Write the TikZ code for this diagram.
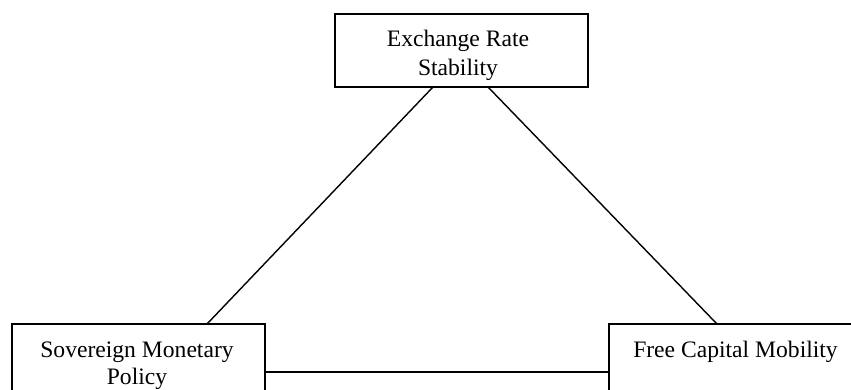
\documentclass[tikz,border=0pt]{standalone}
\usepackage{fontspec}
\setmainfont{Liberation Serif}
\usetikzlibrary{calc}
\begin{document}
\begin{tikzpicture}[x=1pt,y=-1pt,
  box/.style={draw,line width=1.4pt,minimum width=253pt,minimum height=73pt,inner sep=0pt,outer sep=0pt},
  lbl/.style={anchor=base,inner sep=0pt,font=\fontsize{23.6}{28}\selectfont},
  conn/.style={line width=1.4pt}]
\useasboundingbox (0,0) rectangle (851,389);
\clip (0,0) rectangle (851,389);
\node[box] (top) at (461.5,50.5) {};
\node[box] (sl) at (138.5,360.5) {};
\node[box] (fr) at (735.5,360.5) {};
\node[lbl] (t1) at (458,46.7) {Exchange Rate};
\node[lbl] (t2) at (458,75) {Stability};
\node[lbl] (l1) at (137,357) {Sovereign Monetary};
\node[lbl] (l2) at (137,384) {Policy};
\node[lbl] (r1) at (735.5,357) {Free Capital Mobility};
\coordinate (ta) at ($(top.south west)+(98,0)$);
\coordinate (tb) at ($(top.south west)+(153,0)$);
\coordinate (la) at ($(sl.north west)+(195,0)$);
\coordinate (ra) at ($(fr.north west)+(108,0)$);
\draw[conn] (ta) -- (la);
\draw[conn] (tb) -- (ra);
\draw[conn] ($(sl.east)+(0,11.5)$) -- ($(fr.west)+(0,11.5)$);
\end{tikzpicture}
\end{document}
